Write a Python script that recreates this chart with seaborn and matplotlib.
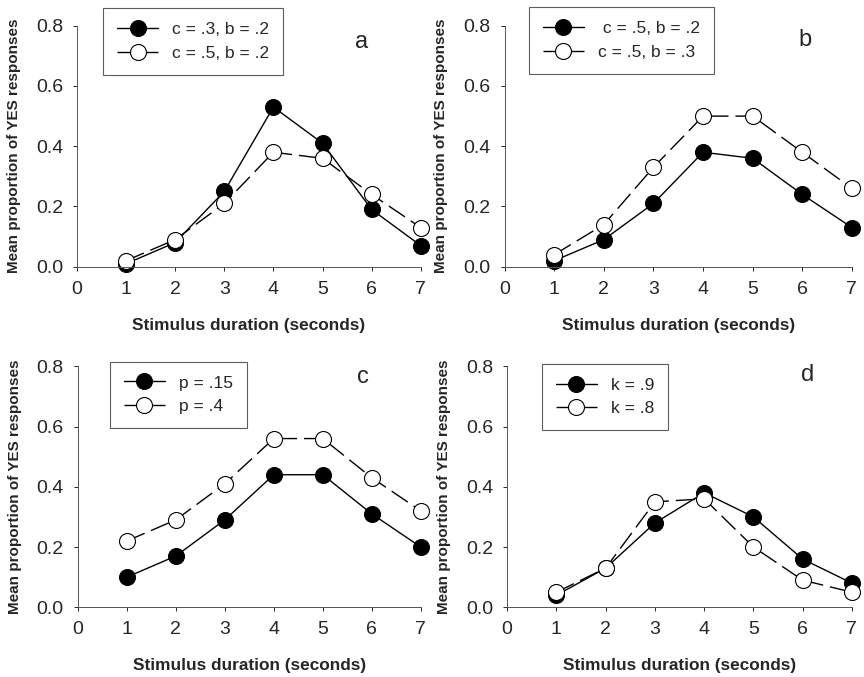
import matplotlib
matplotlib.use('Agg')
import matplotlib.pyplot as plt
import pandas as pd
import seaborn as sns

# Data
durations = [1, 2, 3, 4, 5, 6, 7]

a_filled = [0.01, 0.08, 0.25, 0.53, 0.41, 0.19, 0.07]
a_open = [0.02, 0.09, 0.21, 0.38, 0.36, 0.24, 0.13]
b_filled = [0.02, 0.09, 0.21, 0.38, 0.36, 0.24, 0.13]
b_open = [0.04, 0.14, 0.33, 0.50, 0.50, 0.38, 0.26]
c_filled = [0.10, 0.17, 0.29, 0.44, 0.44, 0.31, 0.20]
c_open = [0.22, 0.29, 0.41, 0.56, 0.56, 0.43, 0.32]
d_filled = [0.04, 0.13, 0.28, 0.38, 0.30, 0.16, 0.08]
d_open = [0.05, 0.13, 0.35, 0.36, 0.20, 0.09, 0.05]

a_labels = ['c = .3, b = .2', 'c = .5, b = .2']
b_labels = [' c = .5, b = .2', 'c = .5, b = .3']
c_labels = ['p = .15', 'p = .4']
d_labels = ['k = .9', 'k = .8']

panels = [
    ('a', a_filled, a_open, a_labels),
    ('b', b_filled, b_open, b_labels),
    ('c', c_filled, c_open, c_labels),
    ('d', d_filled, d_open, d_labels),
]

sns.set_style('ticks')
plt.rcParams['font.family'] = ['Liberation Sans', 'DejaVu Sans']

fig = plt.figure(figsize=(8.64, 6.77), dpi=100)

# axes rectangles [left, bottom, width, height]
positions = [
    [0.089, 0.606, 0.398, 0.356],
    [0.584, 0.606, 0.402, 0.356],
    [0.090, 0.103, 0.397, 0.356],
    [0.587, 0.103, 0.399, 0.356],
]
legend_boxes = [
    (0.119, 0.988),
    (0.612, 0.990),
    (0.127, 0.466),
    (0.627, 0.463),
]
letter_pos = [(0.419, 0.938), (0.932, 0.941), (0.420, 0.443), (0.935, 0.446)]

for (letter, filled, opn, labels), pos, lpos, tpos in zip(panels, positions, legend_boxes, letter_pos):
    ax = fig.add_axes(pos)
    df = pd.DataFrame({'duration': durations, 'filled': filled, 'open': opn})
    sns.lineplot(data=df, x='duration', y='filled', ax=ax, color='black', lw=1.0,
                 marker='o', markersize=11.5, markerfacecolor='black',
                 markeredgecolor='black', label=labels[0])
    sns.lineplot(data=df, x='duration', y='open', ax=ax, color='black', lw=1.0,
                 marker='o', markersize=11.5, markerfacecolor='white',
                 markeredgecolor='black', markeredgewidth=0.8, label=labels[1])
    ax.lines[1].set_dashes((14, 5))
    for ln in ax.lines:
        ln.set_clip_on(False)
    ax.set_xlim(0, 7)
    ax.set_ylim(0, 0.8)
    ax.set_xticks(range(0, 8))
    ax.set_yticks([0.0, 0.2, 0.4, 0.6, 0.8])
    ax.set_yticklabels(['0.0', '0.2', '0.4', '0.6', '0.8'])
    ax.tick_params(labelsize=14, length=3, width=0.7, pad=7)
    ax.set_xlabel('Stimulus duration (seconds)', fontsize=12.4, fontweight='bold')
    ax.set_ylabel('Mean proportion of YES responses', fontsize=11.0, fontweight='bold')
    ax.xaxis.set_label_coords(0.5, -0.212)
    ax.yaxis.set_label_coords(-0.163, 0.5)
    sns.despine(ax=ax)
    for s in ['left', 'bottom']:
        ax.spines[s].set_linewidth(0.7)
        ax.spines[s].set_color('#555555')
    ax.get_legend().remove()
    leg = fig.legend(handles=ax.lines[:2], labels=labels, loc='upper left',
                     bbox_to_anchor=lpos, borderaxespad=0, frameon=True, fancybox=False,
                     edgecolor='#333333', fontsize=12.5, handlelength=2.4,
                     borderpad=0.8, labelspacing=0.5, handletextpad=0.8)
    leg.get_frame().set_linewidth(0.8)
    fig.text(tpos[0], tpos[1], letter, fontsize=17, ha='center', va='center')

fig.savefig('out.png', dpi=100)
